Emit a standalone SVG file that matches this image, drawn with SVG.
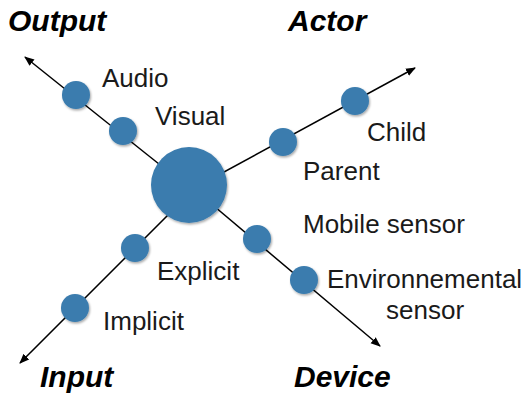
<svg xmlns="http://www.w3.org/2000/svg" width="525" height="395" viewBox="0 0 525 395">
  <defs>
    <marker id="arrow" viewBox="0 0 10 10" refX="9" refY="5" markerWidth="10" markerHeight="10" markerUnits="userSpaceOnUse" orient="auto">
      <path d="M0,1 L10,5 L0,9 z" fill="#000"/>
    </marker>
    <filter id="shadow" x="-30%" y="-30%" width="160%" height="160%">
      <feDropShadow dx="1" dy="1.5" stdDeviation="1.2" flood-color="#000" flood-opacity="0.35"/>
    </filter>
  </defs>
  <style>
    .axis { stroke: #000; stroke-width: 1.5; fill: none; }
    .node { fill: #3a7cae; filter: url(#shadow); }
    .title { font-family: "Liberation Sans", Arial, sans-serif; font-weight: bold; font-style: italic; font-size: 30px; fill: #000; }
    .label { font-family: "Liberation Sans", Arial, sans-serif; font-size: 26px; fill: #1a1a1a; }
  </style>
  <rect width="525" height="395" fill="#fff"/>
  <g id="connectors">
    <line class="axis" x1="189" y1="188" x2="25" y2="57" marker-end="url(#arrow)"/>
    <line class="axis" x1="189" y1="191" x2="415" y2="68" marker-end="url(#arrow)"/>
    <line class="axis" x1="189" y1="194" x2="20" y2="363" marker-end="url(#arrow)"/>
    <line class="axis" x1="189" y1="185" x2="380" y2="346" marker-end="url(#arrow)"/>
  </g>
  <g id="center"><circle class="node" cx="189" cy="185" r="38"/></g>
  <g id="output"><text class="title" x="8" y="31">Output</text></g>
  <g id="actor"><text class="title" x="288" y="31">Actor</text></g>
  <g id="input"><text class="title" x="40" y="387">Input</text></g>
  <g id="device"><text class="title" x="294" y="387">Device</text></g>
  <g id="audio"><circle class="node" cx="76" cy="95" r="14"/><text class="label" x="102" y="87">Audio</text></g>
  <g id="visual"><circle class="node" cx="123" cy="131" r="14"/><text class="label" x="155" y="125">Visual</text></g>
  <g id="child"><circle class="node" cx="355" cy="101" r="14"/><text class="label" x="367" y="141">Child</text></g>
  <g id="parent"><circle class="node" cx="283" cy="142" r="14"/><text class="label" x="303" y="180">Parent</text></g>
  <g id="mobile"><circle class="node" cx="257" cy="239" r="14"/><text class="label" x="303" y="233">Mobile sensor</text></g>
  <g id="env"><circle class="node" cx="304" cy="280" r="14"/><text class="label" x="327" y="288">Environnemental</text><text class="label" x="386" y="319">sensor</text></g>
  <g id="explicit"><circle class="node" cx="135" cy="248" r="14"/><text class="label" x="157" y="280">Explicit</text></g>
  <g id="implicit"><circle class="node" cx="75" cy="308" r="14"/><text class="label" x="103" y="330">Implicit</text></g>
</svg>
